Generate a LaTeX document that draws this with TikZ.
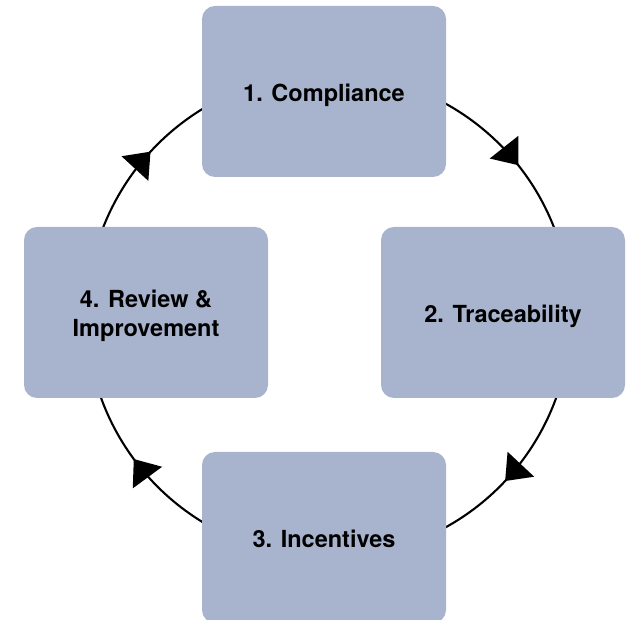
\documentclass[tikz,border=0pt]{standalone}
\usepackage{fontspec}
\setmainfont{TeX Gyre Heros}
\usetikzlibrary{arrows.meta,decorations.markings}
\definecolor{boxfill}{RGB}{168,180,206}
\begin{document}
\begin{tikzpicture}[x=1pt,y=1pt,
  stage/.style={rectangle, rounded corners=13pt, fill=boxfill,
    minimum width=244pt, minimum height=171pt, inner sep=0pt,
    align=center, font=\fontsize{23.5}{29.6}\selectfont\bfseries},
  oneline/.style={text height=20pt, text depth=0pt},
  twoline/.style={text height=49pt, text depth=0pt},
  flow/.style={line width=2.1pt, postaction={decorate},
    decoration={markings, mark=at position 0.545 with
      {\arrow{Triangle[length=23pt,width=36pt]}}}}]
\useasboundingbox (0,0) rectangle (631,620);
% centre of the cycle ring
\coordinate (ring) at (328.6,304.5);
% the four arcs of the cycle, drawn before the boxes that hide their ends
\draw[flow] ([shift={(70:242)}]ring) arc[start angle=70, end angle=12, radius=242];
\draw[flow] ([shift={(-11:242)}]ring) arc[start angle=-11, end angle=-70, radius=242];
\draw[flow] ([shift={(248:242)}]ring) arc[start angle=248, end angle=190, radius=242];
\draw[flow] ([shift={(169:242)}]ring) arc[start angle=169, end angle=111, radius=242];
% stages
\node[stage, oneline] (s1) at (324,528.5) {1. Compliance};
\node[stage, oneline] (s2) at (503,307.5) {2. Traceability};
\node[stage, oneline] (s3) at (324,82.5) {3. Incentives};
\node[stage, twoline] (s4) at (146,307.5) {4. Review \&\\Improvement};
\end{tikzpicture}
\end{document}
